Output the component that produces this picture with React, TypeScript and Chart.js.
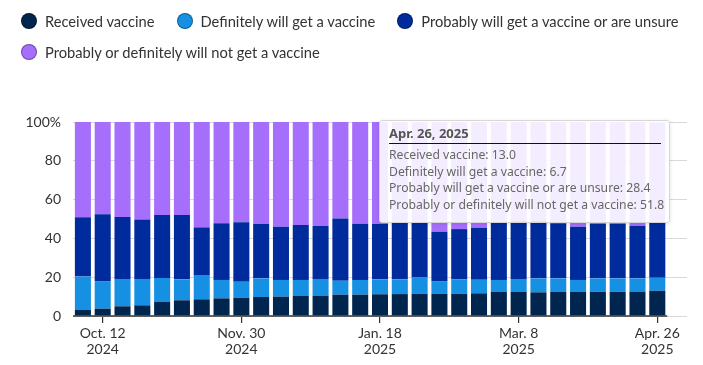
import React, { useEffect, useRef } from "react";
import { Chart, registerables } from "chart.js";

Chart.register(...registerables);

const dates = [
  "Oct. 5, 2024", "Oct. 12, 2024", "Oct. 19, 2024", "Oct. 26, 2024", "Nov. 2, 2024", "Nov. 9, 2024",
  "Nov. 16, 2024", "Nov. 23, 2024", "Nov. 30, 2024", "Dec. 7, 2024", "Dec. 14, 2024", "Dec. 21, 2024",
  "Dec. 28, 2024", "Jan. 4, 2025", "Jan. 11, 2025", "Jan. 18, 2025", "Jan. 25, 2025", "Feb. 1, 2025",
  "Feb. 8, 2025", "Feb. 15, 2025", "Feb. 22, 2025", "Mar. 1, 2025", "Mar. 8, 2025", "Mar. 15, 2025",
  "Mar. 22, 2025", "Mar. 29, 2025", "Apr. 5, 2025", "Apr. 12, 2025", "Apr. 19, 2025", "Apr. 26, 2025",
];

const tickIndices = [1, 8, 15, 22, 29];
const tickLabels: string[][] = [
  ["Oct. 12", "2024"],
  ["Nov. 30", "2024"],
  ["Jan. 18", "2025"],
  ["Mar. 8", "2025"],
  ["Apr. 26", "2025"],
];
const yTicks = [0, 20, 40, 60, 80, 100];

const received = [3.1, 3.8, 5.0, 5.5, 7.4, 8.1, 8.6, 9.1, 9.4, 9.8, 10.0, 10.3, 10.5, 11.0, 11.0, 11.2, 11.3, 11.5, 11.5, 11.5, 11.7, 12.4, 12.4, 12.2, 12.4, 12.4, 12.5, 12.5, 12.6, 13.0];
const definitely = [17.2, 14.2, 14.1, 13.6, 12.2, 10.8, 12.2, 9.5, 8.3, 9.6, 8.6, 8.3, 8.6, 7.2, 7.6, 7.7, 7.6, 8.4, 6.5, 7.4, 7.0, 6.2, 6.7, 7.2, 7.0, 6.2, 6.9, 6.9, 6.8, 6.7];
const probably = [30.6, 34.4, 31.9, 30.7, 32.5, 33.2, 24.9, 29.2, 30.6, 28.0, 27.4, 28.3, 27.3, 32.1, 29.0, 28.5, 29.1, 28.2, 25.5, 25.9, 26.8, 29.5, 29.9, 29.6, 28.4, 27.4, 28.2, 28.2, 27.0, 28.4];
const notGet = [49.1, 47.6, 49.0, 50.2, 47.9, 47.9, 54.3, 52.2, 51.7, 52.6, 54.0, 53.1, 53.6, 49.7, 52.4, 52.6, 52.0, 51.9, 56.5, 55.2, 54.5, 51.9, 51.0, 51.0, 52.2, 54.0, 52.4, 52.4, 53.6, 51.8];

const seriesNames = [
  "Received vaccine",
  "Definitely will get a vaccine",
  "Probably will get a vaccine or are unsure",
  "Probably or definitely will not get a vaccine",
];
const seriesColors = ["#00264f", "#1590e3", "#002b9c", "#a56ffc"];
const seriesValues = [received, definitely, probably, notGet];

const FONT = "Lato, 'Noto Sans', sans-serif";
const TT_FONT = "'Noto Sans', 'Open Sans', sans-serif";

const tooltipIndex = dates.length - 1;

export default function App() {
  const canvasRef = useRef<HTMLCanvasElement | null>(null);

  useEffect(() => {
    document.body.style.margin = "0";
    const canvas = canvasRef.current;
    if (!canvas) return;

    const axisPlugin = {
      id: "axisLine",
      afterDatasetsDraw(chart: any) {
        const ctx = chart.ctx;
        const xs = chart.scales.x;
        const ys = chart.scales.y;
        const y0 = ys.getPixelForValue(0);
        const left = chart.chartArea.left;
        const right = xs.getPixelForValue(dates.length - 0.5);
        ctx.save();
        ctx.strokeStyle = "#333";
        ctx.lineWidth = 1.5;
        ctx.beginPath();
        ctx.moveTo(left, y0);
        ctx.lineTo(right, y0);
        ctx.stroke();
        ctx.restore();
      },
    };

    const chart = new Chart(canvas, {
      type: "bar",
      data: {
        datasets: seriesNames.map((name, si) => ({
          label: name,
          data: seriesValues[si].map((v, i) => ({ x: i, y: v })),
          backgroundColor: seriesColors[si],
          borderWidth: 0,
          barPercentage: 0.81,
          categoryPercentage: 1,
        })),
      },
      options: {
        animation: false,
        responsive: false,
        maintainAspectRatio: false,
        layout: { padding: { top: 122, right: 16, bottom: 0, left: 0 } },
        plugins: {
          legend: { display: false },
          tooltip: { enabled: false },
        },
        scales: {
          x: {
            type: "linear",
            stacked: true,
            offset: false,
            bounds: "data",
            min: -0.5,
            max: dates.length + 0.5,
            afterBuildTicks: (scale: any) => {
              scale.ticks = tickIndices.map((v) => ({ value: v }));
            },
            afterFit: (scale: any) => {
              scale.height = 49;
            },
            ticks: {
              autoSkip: false,
              maxRotation: 0,
              color: "#333",
              padding: 2,
              font: { family: FONT, size: 14, lineHeight: 1.15 },
              callback: (v: any) => {
                const k = tickIndices.indexOf(Number(v));
                return k >= 0 ? tickLabels[k] : "";
              },
            },
            grid: {
              display: true,
              offset: false,
              drawOnChartArea: false,
              drawTicks: true,
              tickLength: 7,
              color: "#333",
              lineWidth: 1.2,
            },
            border: { display: false },
          },
          y: {
            stacked: true,
            min: 0,
            max: 100,
            afterBuildTicks: (scale: any) => {
              scale.ticks = yTicks.map((v) => ({ value: v }));
            },
            afterFit: (scale: any) => {
              scale.width = 73;
            },
            ticks: {
              color: "#333",
              padding: 12,
              font: { family: FONT, size: 14 },
              callback: (v: any) => (Number(v) === 100 ? "100%" : String(v)),
            },
            grid: {
              color: "#d9d9d9",
              lineWidth: 1,
              drawTicks: false,
            },
            border: { display: false },
          },
        },
      },
      plugins: [axisPlugin],
    } as any);

    return () => chart.destroy();
  }, []);

  return (
    <div style={{ position: "absolute", left: 0, top: 0, width: 703, height: 365, background: "#fff", overflow: "hidden" }}>
      <canvas ref={canvasRef} width={703} height={365} style={{ position: "absolute", left: 0, top: 0, width: 703, height: 365 }} />
      <div style={{ position: "absolute", left: 21, top: 10, width: 682, fontFamily: FONT, fontSize: 14.7, color: "#333", lineHeight: "22px" }}>
        <div style={{ display: "flex", flexWrap: "wrap", rowGap: 9 }}>
          {seriesNames.map((name, i) => (
            <div key={name} style={{ display: "flex", alignItems: "center", marginRight: 22, whiteSpace: "nowrap" }}>
              <span style={{ display: "inline-block", width: 16, height: 16, boxSizing: "border-box", borderRadius: "50%", background: seriesColors[i], border: "1px solid rgba(0,0,0,0.35)", marginRight: 8 }} />
              <span>{name}</span>
            </div>
          ))}
        </div>
      </div>
      <div
        style={{
          position: "absolute",
          left: 379,
          top: 120,
          width: 291,
          height: 103,
          boxSizing: "border-box",
          background: "rgba(255,255,255,0.88)",
          border: "1px solid #d6d6d6",
          borderRadius: 3,
          boxShadow: "0 1px 4px rgba(0,0,0,0.12)",
          padding: "4px 8px 0 9px",
          fontFamily: TT_FONT,
          color: "#666",
        }}
      >
        <div style={{ fontWeight: 700, fontSize: 13, color: "#555", lineHeight: "17px", paddingBottom: 1, borderBottom: "1.3px solid #111" }}>
          {dates[tooltipIndex]}
        </div>
        <div style={{ fontSize: 12.2, lineHeight: "16.6px", marginTop: 3 }}>
          {seriesNames.map((name, i) => (
            <div key={name} style={{ whiteSpace: "nowrap" }}>
              {name}: {seriesValues[i][tooltipIndex].toFixed(1)}
            </div>
          ))}
        </div>
      </div>
    </div>
  );
}
